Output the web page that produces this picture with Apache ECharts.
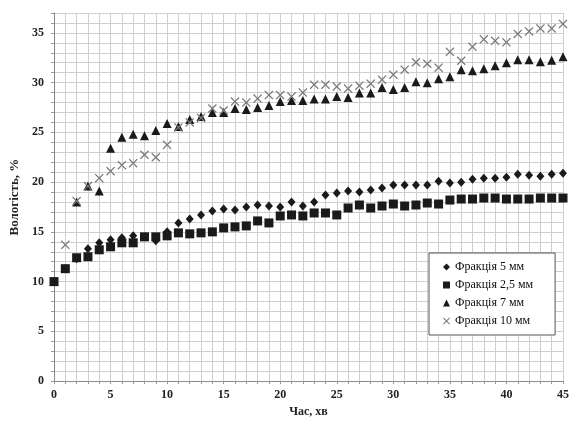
<!DOCTYPE html>
<html><head><meta charset="utf-8">
<script src="https://cdn.jsdelivr.net/npm/echarts@6/dist/echarts.min.js"></script>
<style>html,body{margin:0;padding:0;background:#fff}#c{width:572px;height:423px}</style>
</head><body><div id="c"></div>
<script>
var time = [0,1,2,3,4,5,6,7,8,9,10,11,12,13,14,15,16,17,18,19,20,21,22,23,24,25,26,27,28,29,30,31,32,33,34,35,36,37,38,39,40,41,42,43,44,45];
var frac5 = [10,11.3,12.3,13.3,13.9,14.2,14.4,14.6,14.5,14.1,15.0,15.9,16.3,16.7,17.1,17.3,17.2,17.5,17.7,17.6,17.5,18.0,17.6,18.0,18.7,18.9,19.1,19.0,19.2,19.4,19.7,19.7,19.7,19.7,20.1,19.9,20.0,20.3,20.4,20.4,20.5,20.8,20.7,20.6,20.8,20.9];
var frac25 = [10,11.3,12.4,12.5,13.2,13.5,13.9,13.9,14.5,14.5,14.6,14.9,14.8,14.9,15.0,15.4,15.5,15.6,16.1,15.9,16.6,16.7,16.6,16.9,16.9,16.7,17.4,17.7,17.4,17.6,17.8,17.6,17.7,17.9,17.8,18.2,18.3,18.3,18.4,18.4,18.3,18.3,18.3,18.4,18.4,18.4];
var frac7 = [10,null,18.0,19.6,19.1,23.4,24.5,24.8,24.65,25.2,25.9,25.6,26.3,26.6,27.0,27.0,27.4,27.3,27.5,27.7,28.1,28.2,28.2,28.35,28.35,28.6,28.5,28.95,28.95,29.5,29.3,29.5,30.1,30.0,30.4,30.6,31.3,31.2,31.4,31.7,32.0,32.3,32.3,32.1,32.25,32.6];
var frac10 = [null,13.7,18.1,19.6,20.4,21.1,21.7,21.9,22.75,22.5,23.75,25.5,26.0,26.45,27.4,27.2,28.1,28.0,28.4,28.75,28.75,28.6,29.0,29.8,29.8,29.6,29.4,29.7,29.9,30.3,30.8,31.3,32.05,31.9,31.5,33.1,32.2,33.6,34.35,34.2,34.05,34.9,35.15,35.45,35.45,35.9];
var names = ['Фракція 5 мм','Фракція 2,5 мм','Фракція 7 мм','Фракція 10 мм'];
var xName = 'Час, хв';
var yName = 'Вологість, %';

function pairs(v){ return time.map(function(t,i){ return [t, v[i]]; }); }
var crossPath = 'path://M0,1 L1,0 L5,4 L9,0 L10,1 L6,5 L10,9 L9,10 L5,6 L1,10 L0,9 L4,5 Z';
var font = '"Liberation Serif", "DejaVu Serif", serif';

var chart = echarts.init(document.getElementById('c'), null, {renderer:'canvas'});
var lbl = {fontFamily: font, fontWeight: 'bold', fontSize: 12, color: '#222',
  formatter: function(v){ return (v % 5 === 0) ? String(v) : ''; }};
chart.setOption({
  animation: false,
  backgroundColor: '#fff',
  grid: {left: 50, right: 9, top: 13, bottom: 36, containLabel: false},
  xAxis: {type: 'value', min: 0, max: 45, interval: 1,
    name: xName, nameLocation: 'middle', nameGap: 24,
    nameTextStyle: {fontFamily: font, fontWeight: 'bold', fontSize: 12, color: '#222'},
    axisLine: {lineStyle: {color: '#888', width: 1}},
    axisTick: {show: true, length: 3, lineStyle: {color: '#999'}},
    axisLabel: Object.assign({margin: 8}, lbl),
    splitLine: {show: true, lineStyle: {color: '#cfcfcf', width: 1}}},
  yAxis: {type: 'value', min: 0, max: 37, interval: 1,
    name: yName, nameLocation: 'middle', nameGap: 33,
    nameTextStyle: {fontFamily: font, fontWeight: 'bold', fontSize: 13, color: '#222'},
    axisLine: {show: true, lineStyle: {color: '#888', width: 1}},
    axisTick: {show: true, length: 3, lineStyle: {color: '#999'}},
    axisLabel: Object.assign({margin: 10}, lbl),
    splitLine: {show: true, lineStyle: {color: '#cfcfcf', width: 1}}},
  legend: {orient: 'vertical', left: 429, top: 253,
    data: names,
    backgroundColor: '#fff', borderColor: '#555', borderWidth: 1,
    padding: [8, 22, 8, 14], itemGap: 6, itemWidth: 7, itemHeight: 7,
    textStyle: {fontFamily: font, fontSize: 12, color: '#111'}},
  series: [
    {name: names[0], type: 'scatter', symbol: 'diamond', symbolSize: [8, 9],
     itemStyle: {color: '#1a1a1a', opacity: 1}, data: pairs(frac5)},
    {name: names[1], type: 'scatter', symbol: 'rect', symbolSize: 9,
     itemStyle: {color: '#1a1a1a', opacity: 1}, data: pairs(frac25)},
    {name: names[2], type: 'scatter', symbol: 'triangle', symbolSize: [9, 9],
     itemStyle: {color: '#1a1a1a', opacity: 1}, data: pairs(frac7)},
    {name: names[3], type: 'scatter', symbol: crossPath, symbolSize: 9,
     itemStyle: {color: '#7a7a7a', opacity: 1}, data: pairs(frac10)}
  ]
});
</script></body></html>
